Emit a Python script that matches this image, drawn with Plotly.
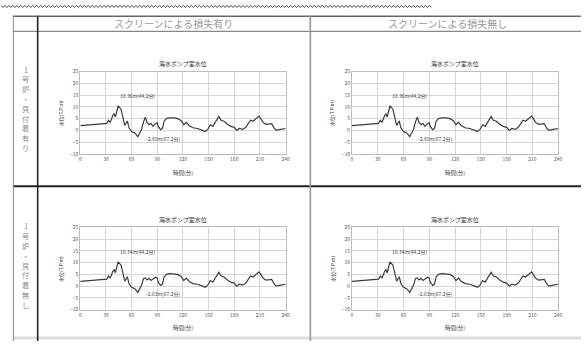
import plotly.graph_objects as go

# ---- data ----
time_a = [0, 27, 31, 33, 35, 38, 39.5, 41, 43, 44.2, 47.6, 50, 52, 55, 57, 60, 64, 67.2, 71.6, 74, 76, 78, 80.5,
          82.5, 85, 88, 90, 91, 94, 96, 98, 100.6, 104.5, 110, 114, 118, 121, 124, 127, 131.6, 137, 143, 146,
          149, 152, 155, 158, 162, 164.5, 168, 172, 176, 180, 183, 186, 190, 193.5, 196.6, 199, 202, 205, 209,
          211, 213.7, 217, 220.6, 223.7, 226.5, 229, 234, 240]
level_a = [2.0, 2.8, 3.0, 4.3, 3.4, 6.3, 7.0, 5.7, 8.3, 10.36, 9.0, 5.0, 2.1, 4.0, 1.0, -0.5, -1.2, -2.69, 0.4,
           3.7, 5.6, 3.4, 2.4, 3.0, 1.7, 2.9, 3.2, 1.7, 0.3, 0.8, 3.9, 5.0, 5.3, 5.3, 5.0, 4.1, 2.4, 3.4, 2.1,
           1.1, 0.8, 0.0, -0.5, 0.4, 2.4, 1.7, 3.7, 5.9, 4.3, 3.9, 2.6, 1.7, 1.3, 0.0, 0.8, 0.4, 1.3, 3.0, 4.3,
           3.9, 5.0, 6.1, 5.0, 3.4, 2.6, 2.6, 2.9, 1.1, 0.0, 0.4, 0.8]
level_b = [2.0, 2.8, 3.0, 4.3, 3.4, 6.3, 7.0, 5.7, 8.3, 10.34, 9.0, 5.0, 2.1, 4.0, 1.0, -0.5, -1.2, -2.63, 0.4,
           3.3, 3.5, 2.6, 3.3, 2.4, 3.0, 3.8, 3.4, 1.7, 0.3, 0.8, 3.9, 5.0, 5.3, 5.3, 5.0, 4.1, 2.4, 3.4, 2.1,
           1.1, 0.8, 0.0, -0.5, 0.4, 2.4, 1.7, 3.7, 5.9, 4.3, 3.9, 2.6, 1.7, 1.3, 0.0, 0.8, 0.4, 1.3, 3.0, 4.3,
           3.9, 5.0, 6.1, 5.0, 3.4, 2.6, 2.6, 2.9, 1.1, 0.0, 0.4, 0.8]
x_ticks = [0, 30, 60, 90, 120, 150, 180, 210, 240]
y_ticks = [-10, -5, 0, 5, 10, 15, 20, 25]
col_headers = ["スクリーンによる損失有り", "スクリーンによる損失無し"]
row_headers = ["1号炉・貝付着有り", "1号炉・貝付着無し"]
chart_title = "海水ポンプ室水位"
x_title = "時間(分)"
y_title = "水位(T.P.m)"

W, H = 585, 344
FONT = "Noto Sans CJK JP"
fig = go.Figure()


def px_x(v):
    return v / W


def px_y(v):
    return 1 - v / H


def paper_text(text, x, y, size, color, angle=0):
    return dict(text=text, x=px_x(x), y=px_y(y), xref="paper", yref="paper", showarrow=False,
                xanchor="center", yanchor="middle", textangle=angle,
                font=dict(size=size, color=color, family=FONT))


# panel geometry in pixels: (left, right, top, bottom)
panels = [
    (80, 287, 69, 153, level_a),
    (354, 562, 69, 153, level_a),
    (80, 287, 228, 312, level_b),
    (354, 562, 228, 312, level_b),
]

annotations = []
shapes = []
for i, (l, r, t, b, series) in enumerate(panels):
    n = "" if i == 0 else str(i + 1)
    xa, ya = "xaxis" + n, "yaxis" + n
    xr, yr = "x" + n, "y" + n
    fig.add_trace(go.Scatter(x=time_a, y=series, mode="lines", line=dict(color="#3c3c3c", width=1.2),
                             xaxis=xr, yaxis=yr, showlegend=False, hoverinfo="skip"))
    axis_common = dict(showgrid=True, gridcolor="#d6d6d6", gridwidth=1, showline=True, linecolor="#bdbdbd",
                       linewidth=1, mirror=True, zeroline=False, ticks="",
                       tickfont=dict(size=5, color="#555", family=FONT))
    fig.update_layout({
        xa: dict(domain=[px_x(l), px_x(r)], range=[0, 240], tickvals=x_ticks, anchor=yr, **axis_common),
        ya: dict(domain=[px_y(b), px_y(t)], range=[-10, 25], tickvals=y_ticks, anchor=xr, **axis_common),
    })
    annotations.append(paper_text(chart_title, (l + r) / 2, t - 8, 6, "#333"))
    annotations.append(paper_text(x_title, (l + r) / 2, b + 19, 5.5, "#444"))
    annotations.append(paper_text(y_title, l - 20, (t + b) / 2, 5, "#444", angle=-90))
    # peak / trough labels
    vmax = max(series)
    tmax = time_a[series.index(vmax)]
    vmin = min(series)
    tmin = time_a[series.index(vmin)]
    annotations.append(dict(text=f"{vmax:.2f}m({tmax}分)", x=tmax, y=vmax, xref=xr, yref=yr, showarrow=False,
                            xanchor="center", yanchor="middle", xshift=20, yshift=10,
                            font=dict(size=5, color="#444", family=FONT)))
    annotations.append(dict(text=f"{vmin:.2f}m({tmin}分)", x=tmin, y=vmin, xref=xr, yref=yr, showarrow=False,
                            xanchor="center", yanchor="middle", xshift=25, yshift=-2,
                            font=dict(size=5, color="#444", family=FONT)))

# column headers
for cx, txt in zip([174, 450], col_headers):
    annotations.append(paper_text(txt, cx, 20, 10, "#9a9a9a"))
# row headers (vertical, one character per line)
for top, txt in zip([67, 227], row_headers):
    for k, ch in enumerate(txt):
        annotations.append(paper_text(ch, 25, top + k * 10, 7.2, "#8a8a8a"))


def hline(y, x0, x1, color, w):
    shapes.append(dict(type="line", xref="paper", yref="paper", x0=px_x(x0), x1=px_x(x1), y0=px_y(y), y1=px_y(y),
                       line=dict(color=color, width=w)))


def vline(x, y0, y1, color, w):
    shapes.append(dict(type="line", xref="paper", yref="paper", x0=px_x(x), x1=px_x(x), y0=px_y(y0), y1=px_y(y1),
                       line=dict(color=color, width=w)))


hline(12.5, 12, 585, "#666", 1.5)
hline(28, 12, 585, "#888", 1.2)
hline(186, 12, 585, "#222", 2)
hline(341, 12, 585, "#dddddd", 3)
vline(12.5, 12, 344, "#888", 1)
vline(37, 12, 344, "#222", 1.6)
vline(312, 12, 344, "#999", 1.6)

# wavy decorative line at top
pts = []
xx = 0.0
k = 0
while xx <= 435:
    yy = 1.5 if k % 2 == 0 else 3.5
    pts.append(f"{px_x(xx):.5f},{px_y(yy):.5f}")
    xx += 2
    k += 1
shapes.append(dict(type="path", xref="paper", yref="paper", path="M" + " L".join(pts),
                   line=dict(color="#444", width=1)))

fig.update_layout(width=W, height=H, margin=dict(l=0, r=0, t=0, b=0), paper_bgcolor="white",
                  plot_bgcolor="white", annotations=annotations, shapes=shapes, showlegend=False)
fig.write_html("out.html", config={"displayModeBar": False, "staticPlot": True},
               post_script="document.body.style.margin='0px';document.body.style.overflow='hidden';")
